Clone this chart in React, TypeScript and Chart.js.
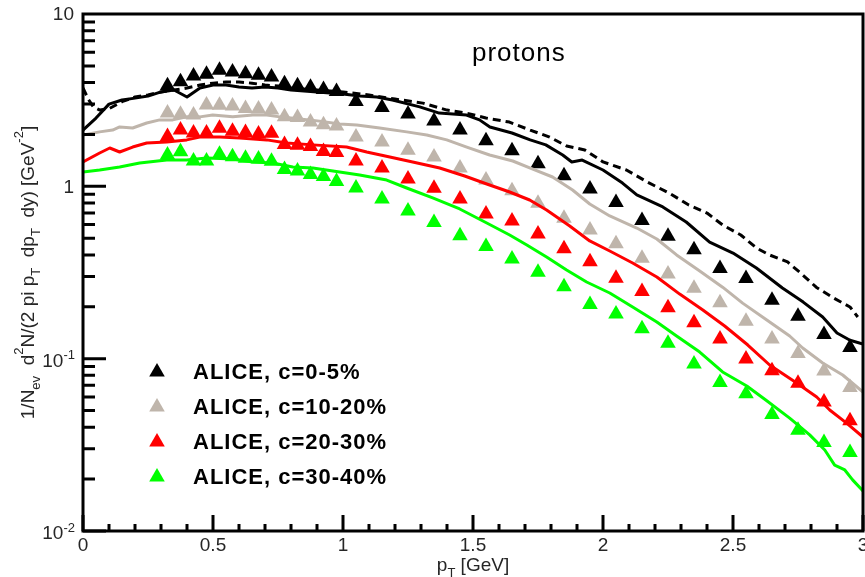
import React, { useEffect, useRef } from 'react';
import { Chart, registerables } from 'chart.js';

Chart.register(...registerables);

const FONT = '"Liberation Sans", Arial, Helvetica, sans-serif';

// ALICE proton spectra, pT bin centres in GeV
const alicePt = [
  0.325, 0.375, 0.425, 0.475, 0.525, 0.575, 0.625, 0.675, 0.725, 0.775, 0.825, 0.875, 0.925, 0.975,
  1.05, 1.15, 1.25, 1.35, 1.45, 1.55, 1.65, 1.75, 1.85, 1.95,
  2.05, 2.15, 2.25, 2.35, 2.45, 2.55, 2.65, 2.75, 2.85, 2.95,
];
const alice0005 = [
  3.84, 4.05, 4.37, 4.47, 4.71, 4.61, 4.5, 4.41, 4.31, 3.94, 3.84, 3.76, 3.65, 3.55,
  3.11, 2.87, 2.63, 2.39, 2.12, 1.84, 1.61, 1.35, 1.15, 0.965,
  0.806, 0.633, 0.514, 0.429, 0.334, 0.292, 0.218, 0.176, 0.138, 0.116,
];
const alice1020 = [
  2.66, 2.62, 2.59, 2.96, 2.95, 2.93, 2.83, 2.81, 2.77, 2.53, 2.51, 2.36, 2.28, 2.24,
  1.93, 1.81, 1.62, 1.48, 1.278, 1.088, 0.942, 0.797, 0.652, 0.558,
  0.465, 0.382, 0.31, 0.256, 0.211, 0.165, 0.13, 0.107, 0.0848, 0.068,
];
const alice2030 = [
  1.946, 2.12, 2.04, 2.04, 2.17, 2.09, 2.05, 2.01, 2.03, 1.75, 1.73, 1.7, 1.595, 1.571,
  1.403, 1.278, 1.103, 0.974, 0.844, 0.691, 0.629, 0.529, 0.434, 0.365,
  0.293, 0.245, 0.1975, 0.1615, 0.13, 0.0996, 0.0851, 0.0719, 0.056, 0.0436,
];
const alice3040 = [
  1.52, 1.589, 1.403, 1.403, 1.537, 1.485, 1.454, 1.441, 1.397, 1.252, 1.227, 1.171, 1.14, 1.067,
  0.978, 0.844, 0.719, 0.617, 0.516, 0.448, 0.379, 0.317, 0.2617, 0.2062,
  0.1816, 0.149, 0.1228, 0.0931, 0.0727, 0.0626, 0.0474, 0.0384, 0.0326, 0.0285,
];

// Model curves, c = 0-5% (solid)
const modelPt0005 = [
  0, 0.05, 0.1, 0.15, 0.2, 0.25, 0.3, 0.35, 0.4, 0.45, 0.5, 0.55, 0.6, 0.65, 0.7, 0.75, 0.8, 0.85, 0.9, 0.95,
  1.0, 1.065, 1.13, 1.19, 1.295, 1.37, 1.475, 1.525, 1.565, 1.65, 1.72, 1.78, 1.845, 1.88, 1.92, 2.0,
  2.075, 2.13, 2.23, 2.32, 2.41, 2.5, 2.59, 2.69, 2.77, 2.845, 2.9, 2.95, 3.0,
];
const model0005 = [
  2.12, 2.49, 3.0, 3.17, 3.25, 3.34, 3.53, 3.62, 3.3, 3.72, 3.87, 3.87, 3.77, 3.72, 3.77, 3.72, 3.62, 3.57, 3.53, 3.48,
  3.43, 3.34, 3.3, 3.17, 2.89, 2.66, 2.59, 2.43, 2.21, 2.04, 1.86, 1.74, 1.52, 1.384, 1.42, 1.244,
  1.045, 0.891, 0.759, 0.621, 0.475, 0.41, 0.336, 0.257, 0.213, 0.1745, 0.141, 0.128, 0.1216,
];
// Model curve variant, c = 0-5% (dashed)
const modelPt0005b = [
  0, 0.02, 0.04, 0.065, 0.1, 0.15, 0.2, 0.25, 0.3, 0.35, 0.4, 0.45, 0.5, 0.55, 0.6, 0.65, 0.7, 0.75, 0.8, 0.9,
  1.0, 1.1, 1.2, 1.307, 1.4, 1.475, 1.55, 1.64, 1.72, 1.795, 1.86, 1.93, 2.0, 2.09, 2.17, 2.255, 2.33, 2.4, 2.46, 2.53,
  2.59, 2.64, 2.71, 2.76, 2.82, 2.88, 2.95, 2.98,
];
const model0005b = [
  3.72, 3.21, 2.89, 2.77, 2.82, 3.1, 3.3, 3.39, 3.53, 3.62, 3.72, 3.87, 3.97, 4.03, 4.03, 3.97, 3.87, 3.82, 3.72, 3.62,
  3.53, 3.39, 3.21, 3.04, 2.77, 2.66, 2.49, 2.36, 2.12, 1.93, 1.714, 1.625, 1.386, 1.244, 1.06, 0.913, 0.779, 0.7, 0.597, 0.522,
  0.439, 0.4, 0.364, 0.314, 0.26, 0.228, 0.1995, 0.1745,
];
// c = 10-20%
const modelPt1020 = [
  0, 0.064, 0.114, 0.141, 0.191, 0.245, 0.295, 0.345, 0.399, 0.449, 0.499, 0.576, 0.653, 0.707, 0.757, 0.834, 0.91, 0.987,
  1.053, 1.141, 1.245, 1.322, 1.399, 1.476, 1.564, 1.653, 1.73, 1.806, 1.883, 1.949, 2.026, 2.13, 2.207, 2.283, 2.372,
  2.46, 2.537, 2.63, 2.718, 2.768, 2.845, 2.922, 3.0,
];
const model1020 = [
  1.986, 2.07, 2.12, 2.21, 2.18, 2.33, 2.43, 2.43, 2.53, 2.53, 2.59, 2.53, 2.59, 2.59, 2.53, 2.46, 2.39, 2.3,
  2.27, 2.18, 2.07, 1.986, 1.86, 1.69, 1.52, 1.403, 1.26, 1.133, 0.952, 0.79, 0.673, 0.573, 0.495, 0.4, 0.323,
  0.26, 0.21, 0.1676, 0.1354, 0.1153, 0.0944, 0.0804, 0.064,
];
// c = 20-30%
const modelPt2030 = [
  0, 0.064, 0.103, 0.141, 0.191, 0.245, 0.322, 0.399, 0.449, 0.526, 0.603, 0.707, 0.783, 0.884, 1.014, 1.091, 1.18,
  1.268, 1.372, 1.468, 1.553, 1.641, 1.718, 1.783, 1.872, 1.949, 2.026, 2.114, 2.207, 2.295, 2.384, 2.468, 2.557,
  2.641, 2.745, 2.822, 2.872, 2.937, 3.0,
];
const model2030 = [
  1.384, 1.561, 1.669, 1.582, 1.69, 1.784, 1.808, 1.86, 1.93, 1.93, 1.907, 1.86, 1.784, 1.74, 1.69, 1.582, 1.48,
  1.384, 1.278, 1.148, 1.032, 0.927, 0.833, 0.729, 0.589, 0.482, 0.4214, 0.359, 0.298, 0.237, 0.1915, 0.1547, 0.12,
  0.0919, 0.0722, 0.0599, 0.0504, 0.0423, 0.0351,
];
// c = 30-40%
const modelPt3040 = [
  0, 0.064, 0.141, 0.218, 0.322, 0.399, 0.476, 0.576, 0.653, 0.73, 0.807, 0.884, 0.987, 1.064, 1.168, 1.245, 1.345,
  1.449, 1.553, 1.641, 1.707, 1.783, 1.86, 1.937, 2.026, 2.114, 2.207, 2.283, 2.372, 2.46, 2.553, 2.626, 2.718,
  2.795, 2.853, 2.891, 2.93, 2.96, 3.0,
];
const model3040 = [
  1.211, 1.244, 1.295, 1.366, 1.42, 1.42, 1.46, 1.44, 1.384, 1.366, 1.295, 1.278, 1.211, 1.163, 1.088, 0.978, 0.856,
  0.739, 0.613, 0.522, 0.457, 0.389, 0.327, 0.2786, 0.2404, 0.1995, 0.1632, 0.1354, 0.1093, 0.0837, 0.0694, 0.0576, 0.0452,
  0.0361, 0.0295, 0.0241, 0.0226, 0.0198, 0.0171,
];

const xTickValues = [0, 0.5, 1, 1.5, 2, 2.5, 3];
const xTickLabels = ['0', '0.5', '1', '1.5', '2', '2.5', '3'];
const yDecades = [10, 1, 0.1, 0.01];
const yTickLabels: [string, string][] = [['10', ''], ['1', ''], ['10', '-1'], ['10', '-2']];
const legendLabels = ['ALICE, c=0-5%', 'ALICE, c=10-20%', 'ALICE, c=20-30%', 'ALICE, c=30-40%'];
const seriesColors = ['#000000', '#bfb5ab', '#ff0000', '#00ff00'];

const MARKER_R = 9;

type Seg = { t: string; k?: 'sub' | 'sup' };

const pts = (xs: number[], ys: number[]) => xs.map((x, i) => ({ x, y: ys[i] }));

function segFont(seg: Seg, size: number, small: number) {
  return `${seg.k ? small : size}px ${FONT}`;
}

function richWidth(ctx: CanvasRenderingContext2D, segs: Seg[], size: number, small: number) {
  let w = 0;
  for (const s of segs) {
    ctx.font = segFont(s, size, small);
    w += ctx.measureText(s.t).width;
  }
  return w;
}

function drawRich(
  ctx: CanvasRenderingContext2D, segs: Seg[], x: number, y: number,
  size: number, small: number, subDy: number, supDy: number,
) {
  let cx = x;
  ctx.textBaseline = 'alphabetic';
  ctx.textAlign = 'left';
  for (const s of segs) {
    ctx.font = segFont(s, size, small);
    const dy = s.k === 'sub' ? subDy : s.k === 'sup' ? supDy : 0;
    ctx.fillText(s.t, cx, y + dy);
    cx += ctx.measureText(s.t).width;
  }
}

function triangle(ctx: CanvasRenderingContext2D, x: number, y: number, r: number) {
  ctx.beginPath();
  for (let i = 0; i < 3; i++) {
    const a = (i * 2 * Math.PI) / 3;
    const px = x + Math.sin(a) * r;
    const py = y - Math.cos(a) * r;
    if (i === 0) ctx.moveTo(px, py);
    else ctx.lineTo(px, py);
  }
  ctx.closePath();
  ctx.fill();
}

const yTitle: Seg[] = [
  { t: '1/N' }, { t: 'ev', k: 'sub' }, { t: '  d' }, { t: '2', k: 'sup' }, { t: 'N/(2 pi p' },
  { t: 'T', k: 'sub' }, { t: '  dp' }, { t: 'T', k: 'sub' }, { t: '  dy) [GeV' }, { t: '-2', k: 'sup' }, { t: ']' },
];
const xTitle: Seg[] = [{ t: 'p' }, { t: 'T', k: 'sub' }, { t: ' [GeV]' }];

const framePlugin = {
  id: 'frameAndText',
  afterDatasetsDraw(chart: any) {
    const { ctx, chartArea: a, scales } = chart;
    const xs = scales.x;
    const ys = scales.y;
    ctx.save();

    // frame
    ctx.strokeStyle = '#000';
    ctx.lineWidth = 3;
    ctx.strokeRect(a.left, a.top, a.right - a.left, a.bottom - a.top);

    // inward ticks, log y axis
    ctx.beginPath();
    for (let e = -2; e <= 0; e++) {
      for (let m = 1; m <= 9; m++) {
        const py = ys.getPixelForValue(m * Math.pow(10, e));
        const len = m === 1 ? 23 : 12;
        ctx.moveTo(a.left, py);
        ctx.lineTo(a.left + len, py);
      }
    }
    // inward ticks, x axis
    for (let i = 0; i <= 30; i++) {
      const px = xs.getPixelForValue(i / 10);
      const len = i % 5 === 0 ? 16 : 7;
      ctx.moveTo(px, a.bottom);
      ctx.lineTo(px, a.bottom - len);
    }
    ctx.stroke();

    ctx.fillStyle = '#262626';
    // x tick labels
    ctx.font = `19px ${FONT}`;
    ctx.textAlign = 'center';
    ctx.textBaseline = 'middle';
    xTickValues.forEach((v, i) => {
      ctx.fillText(xTickLabels[i], xs.getPixelForValue(v), a.bottom + 15);
    });

    // y tick labels
    yDecades.forEach((v, i) => {
      const py = ys.getPixelForValue(v);
      const [main, sup] = yTickLabels[i];
      ctx.textAlign = 'right';
      ctx.textBaseline = 'middle';
      if (sup) {
        ctx.font = `13px ${FONT}`;
        const sw = ctx.measureText(sup).width;
        ctx.fillText(sup, a.left - 8, py - 3);
        ctx.font = `19px ${FONT}`;
        ctx.fillText(main, a.left - 8 - sw, py + 3);
      } else {
        ctx.font = `19px ${FONT}`;
        ctx.fillText(main, a.left - 9, py + 1);
      }
    });

    // x title
    const xw = richWidth(ctx, xTitle, 19, 13);
    drawRich(ctx, xTitle, (a.left + a.right) / 2 - xw / 2, a.bottom + 40, 19, 13, 6, -8);

    // y title, rotated
    ctx.save();
    ctx.translate(34, (a.top + a.bottom) / 2);
    ctx.rotate(-Math.PI / 2);
    const yw = richWidth(ctx, yTitle, 19, 13);
    drawRich(ctx, yTitle, -yw / 2, 0, 19, 13, 6, -11);
    ctx.restore();

    // panel label
    ctx.fillStyle = '#000';
    ctx.font = `26px ${FONT}`;
    (ctx as any).letterSpacing = '1px';
    ctx.textAlign = 'left';
    ctx.textBaseline = 'middle';
    ctx.fillText('protons', 472, a.top + 40);

    // legend
    legendLabels.forEach((label, i) => {
      const ly = 372 + i * 35;
      ctx.fillStyle = seriesColors[i];
      triangle(ctx, 157, ly, MARKER_R);
      ctx.fillStyle = '#000';
      ctx.font = `bold 22px ${FONT}`;
      (ctx as any).letterSpacing = '1px';
      ctx.textAlign = 'left';
      ctx.textBaseline = 'middle';
      ctx.fillText(label, 193, ly + 1);
    });
    (ctx as any).letterSpacing = '0px';

    ctx.restore();
  },
};

export default function App() {
  const ref = useRef<HTMLCanvasElement>(null);

  useEffect(() => {
    const curve = (xs: number[], ys: number[], color: string, dash: number[] = []) => ({
      data: pts(xs, ys),
      showLine: true,
      borderColor: color,
      borderWidth: 3,
      borderDash: dash,
      borderJoinStyle: 'round' as const,
      pointRadius: 0,
      tension: 0,
      fill: false,
      order: 0,
    });
    const markers = (ys: number[], color: string) => ({
      data: pts(alicePt, ys),
      showLine: false,
      pointStyle: 'triangle' as const,
      pointRadius: MARKER_R,
      backgroundColor: color,
      borderWidth: 0,
      order: 1,
    });

    const chart = new Chart(ref.current!, {
      type: 'scatter',
      data: {
        datasets: [
          markers(alice0005, seriesColors[0]),
          markers(alice1020, seriesColors[1]),
          markers(alice2030, seriesColors[2]),
          markers(alice3040, seriesColors[3]),
          curve(modelPt0005b, model0005b, '#000000', [8, 5]),
          curve(modelPt0005, model0005, '#000000'),
          curve(modelPt1020, model1020, seriesColors[1]),
          curve(modelPt2030, model2030, seriesColors[2]),
          curve(modelPt3040, model3040, seriesColors[3]),
        ] as any,
      },
      options: {
        animation: false,
        responsive: false,
        devicePixelRatio: 1,
        events: [],
        layout: { autoPadding: false, padding: { left: 83, right: 2, top: 14, bottom: 46 } },
        scales: {
          x: { type: 'linear', min: 0, max: 3, display: false },
          y: { type: 'logarithmic', min: 0.01, max: 10, display: false },
        },
        plugins: {
          legend: { display: false },
          tooltip: { enabled: false },
        },
      },
      plugins: [framePlugin],
    });
    return () => chart.destroy();
  }, []);

  return (
    <div style={{ position: 'absolute', left: 0, top: 0, width: 865, height: 577, background: '#fff' }}>
      <canvas ref={ref} width={865} height={577} style={{ display: 'block' }} />
    </div>
  );
}
